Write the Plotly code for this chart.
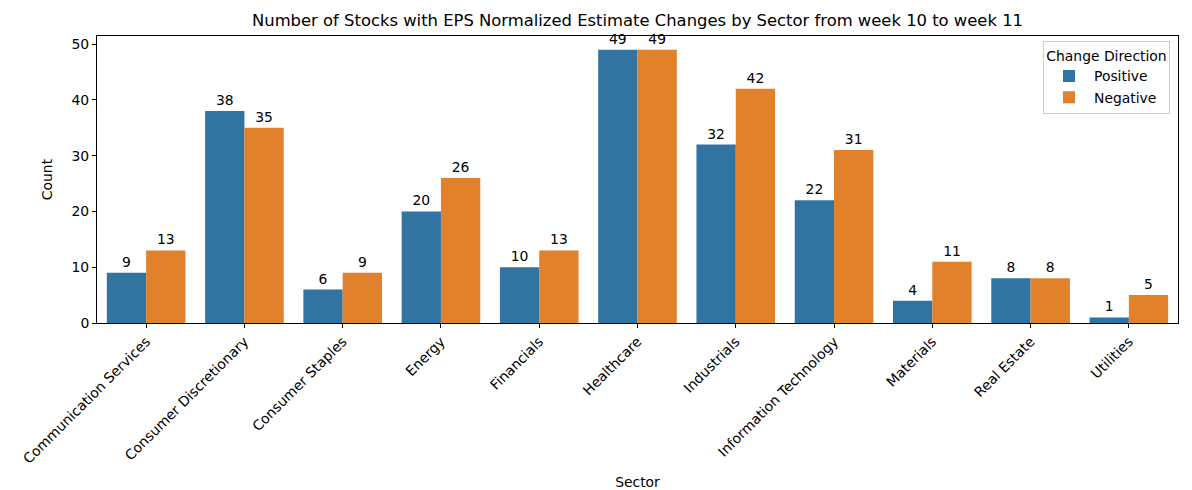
import plotly.graph_objects as go

sectors = ["Communication Services", "Consumer Discretionary", "Consumer Staples", "Energy",
           "Financials", "Healthcare", "Industrials", "Information Technology", "Materials",
           "Real Estate", "Utilities"]
positive = [9, 38, 6, 20, 10, 49, 32, 22, 4, 8, 1]
negative = [13, 35, 9, 26, 13, 49, 42, 31, 11, 8, 5]

FONT = "DejaVu Sans"
fig = go.Figure()
for name, vals, color in [("Positive", positive, "#3274a1"), ("Negative", negative, "#e1812c")]:
    fig.add_trace(go.Bar(
        x=sectors, y=vals, name=name, marker_color=color, marker_line_width=0,
        text=[str(v) for v in vals], textposition="outside", cliponaxis=False,
        textfont=dict(family=FONT, size=13.9, color="black"),
    ))

fig.update_layout(
    width=1192, height=490,
    barmode="group", bargap=0.2, bargroupgap=0,
    plot_bgcolor="white", paper_bgcolor="white",
    font=dict(family=FONT, size=13.9, color="black"),
    margin=dict(l=97, r=14, t=36, b=167, autoexpand=False),
    title=dict(text="Number of Stocks with EPS Normalized Estimate Changes by Sector from week 10 to week 11",
               x=0.5, xref="paper", xanchor="center", y=0.958, yanchor="middle",
               font=dict(family=FONT, size=16.4, color="black")),
    legend=dict(
        title=dict(text="Change Direction", side="top center", font=dict(size=13.9)),
        x=0.9926, xanchor="right", y=0.981, yanchor="top",
        bordercolor="#cccccc", borderwidth=1, bgcolor="rgba(255,255,255,0.8)",
        font=dict(size=13.9), itemwidth=40,
    ),
    xaxis=dict(
        title=dict(text="Sector", font=dict(size=13.9)), automargin=False,
        tickangle=-45, showline=True, linecolor="black", linewidth=1, mirror=True,
        ticks="outside", ticklen=4, tickcolor="black", range=[-0.5, 10.5],
    ),
    yaxis=dict(
        title=dict(text="Count", font=dict(size=13.9)), automargin=False,
        range=[0, 51.45], dtick=10, showgrid=False, zeroline=False,
        showline=True, linecolor="black", linewidth=1, mirror=True,
        ticks="outside", ticklen=4, tickcolor="black",
    ),
)
fig.write_html("out.html", config={"displayModeBar": False},
               post_script="document.body.style.margin='0';")
